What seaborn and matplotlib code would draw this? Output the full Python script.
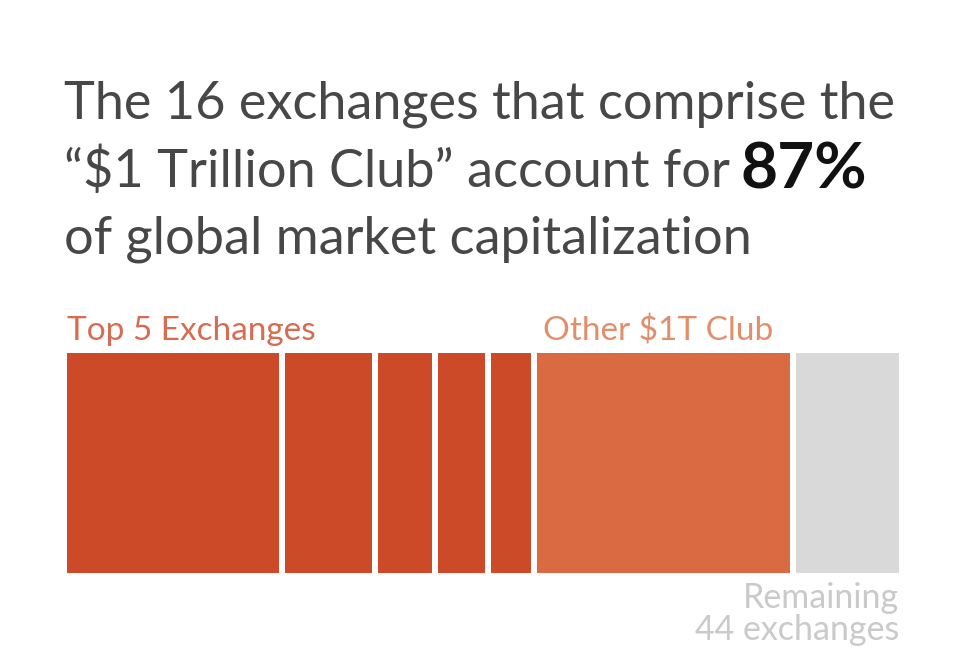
import numpy as np
import pandas as pd
import matplotlib.pyplot as plt
import seaborn as sns

# share of global market capitalization (%)
segments = ["Exchange 1", "Exchange 2", "Exchange 3", "Exchange 4", "Exchange 5",
            "Other $1T Club", "Remaining 44 exchanges"]
shares = [26.0, 11.1, 7.2, 6.3, 5.5, 30.9, 13.0]
groups = ["top5", "top5", "top5", "top5", "top5", "club", "rest"]
group_colors = {"top5": "#cc4a27", "club": "#d96a41", "rest": "#d9d9d9"}

df = pd.DataFrame({"segment": segments, "share": shares, "group": groups})
df["end"] = df["share"].cumsum()

sns.set_theme(style="white")
plt.rcParams["font.family"] = ["Lato", "DejaVu Sans"]

W, H = 977, 669
fig = plt.figure(figsize=(W / 100, H / 100), dpi=100)
fig.patch.set_facecolor("white")

# axes padded by half the gap so the white edges give the visible separators
ax = fig.add_axes([63.7 / W, 1 - 576 / H, (902 - 63.7) / W, (576 - 350) / H])
gap = 6 * 72 / 100

# stacked bar: draw cumulative totals from largest to smallest
for _, row in df.iloc[::-1].iterrows():
    sns.barplot(x=[row["end"]], y=["all"], orient="h",
                color=group_colors[row["group"]], saturation=1, width=1,
                edgecolor="white", linewidth=gap, ax=ax)
ax.set_xlim(0, df["end"].iloc[-1])
ax.set_ylim(0.5, -0.5)
ax.axis("off")

# title
title_kw = dict(fontsize=37.6, color="#474747", va="baseline", ha="left")
fig.text(64 / W, 1 - 119 / H, "The 16 exchanges that comprise the", **title_kw)
line2 = fig.text(64 / W, 1 - 187 / H, "\u201c$1 Trillion Club\u201d account for", **title_kw)
fig.text(64 / W, 1 - 253 / H, "of global market capitalization", **title_kw)

# bold figure placed right after the second title line
fig.canvas.draw()
bb = line2.get_window_extent()
fig.text((bb.x1 + 11) / W, 1 - 188 / H, "87%", fontsize=46, fontweight="bold",
         color="#111111", va="baseline", ha="left")

# group labels
fig.text(67 / W, 1 - 340 / H, "Top 5 Exchanges", fontsize=24, color="#d86c50",
         va="baseline", ha="left")
fig.text(543 / W, 1 - 341 / H, "Other $1T Club", fontsize=24, color="#e38e6a",
         va="baseline", ha="left")
fig.text(899 / W, 1 - 608 / H, "Remaining", fontsize=24.5, color="#cacaca",
         va="baseline", ha="right")
fig.text(899 / W, 1 - 640 / H, "44 exchanges", fontsize=24.5, color="#cacaca",
         va="baseline", ha="right")

fig.savefig("out.png", dpi=100, facecolor="white")
